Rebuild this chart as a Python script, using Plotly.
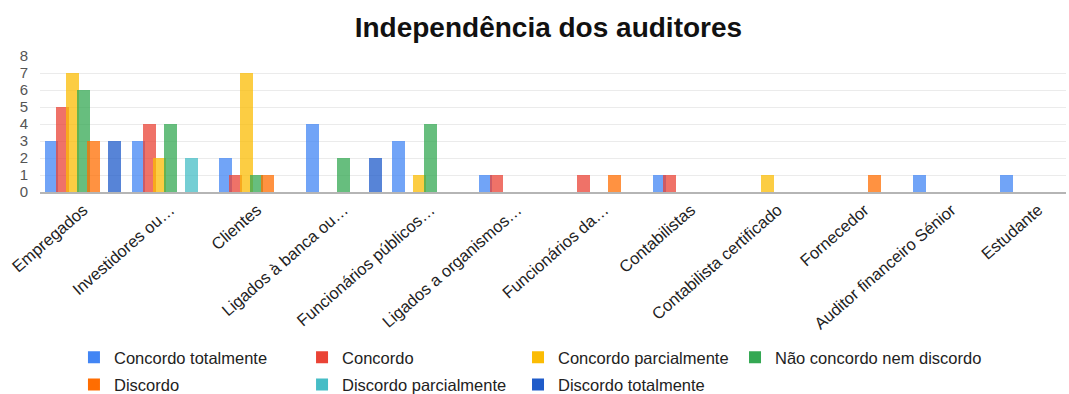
import plotly.graph_objects as go

# Respondent groups (x categories)
categorias = [
    "Empregados",
    "Investidores ou…",
    "Clientes",
    "Ligados à banca ou…",
    "Funcionários públicos…",
    "Ligados a organismos…",
    "Funcionários da…",
    "Contabilistas",
    "Contabilista certificado",
    "Fornecedor",
    "Auditor financeiro Sénior",
    "Estudante",
]

# Answer counts per level of agreement
concordo_totalmente = [3, 3, 2, 4, 3, 1, 0, 1, 0, 0, 1, 1]
concordo = [5, 4, 1, 0, 0, 1, 1, 1, 0, 0, 0, 0]
concordo_parcialmente = [7, 2, 7, 0, 1, 0, 0, 0, 1, 0, 0, 0]
nao_concordo_nem_discordo = [6, 4, 1, 2, 4, 0, 0, 0, 0, 0, 0, 0]
discordo = [3, 0, 1, 0, 0, 0, 1, 0, 0, 1, 0, 0]
discordo_parcialmente = [0, 2, 0, 0, 0, 0, 0, 0, 0, 0, 0, 0]
discordo_totalmente = [3, 0, 0, 2, 0, 0, 0, 0, 0, 0, 0, 0]

series = [
    ("Concordo totalmente", concordo_totalmente, "#4285F4"),
    ("Concordo", concordo, "#EA4335"),
    ("Concordo parcialmente", concordo_parcialmente, "#FBBC04"),
    ("Não concordo nem discordo", nao_concordo_nem_discordo, "#34A853"),
    ("Discordo", discordo, "#FF6D01"),
    ("Discordo parcialmente", discordo_parcialmente, "#46BDC6"),
    ("Discordo totalmente", discordo_totalmente, "#1F5BC9"),
]

tick_y = [0, 1, 2, 3, 4, 5, 6, 7, 8]

# slightly overlapping bars inside each group
BAR_W = 0.15
STEP = 0.121
START = -0.44

# legend grid: 4 columns x 2 rows, one legend box per entry (paper coords)
LEG_COLS = [0.0331, 0.2554, 0.4659, 0.6774]
LEG_ROWS = [-1.218, -1.418]

fig = go.Figure()
legend_layouts = {}
for i, (nome, valores, cor) in enumerate(series):
    key = "legend" if i == 0 else f"legend{i + 1}"
    fig.add_trace(
        go.Bar(
            name=nome,
            x=categorias,
            y=valores,
            width=BAR_W,
            offset=START + i * STEP,
            marker=dict(color=cor, opacity=0.75, line=dict(width=0)),
            legend=key,
        )
    )
    legend_layouts[key] = dict(
        x=LEG_COLS[i % 4],
        y=LEG_ROWS[i // 4],
        xanchor="left",
        yanchor="middle",
        orientation="h",
        font=dict(size=16.5, color="#222", family="Liberation Sans, Arial, sans-serif"),
        bgcolor="rgba(0,0,0,0)",
        borderwidth=0,
    )

fig.update_layout(
    width=1069,
    height=394,
    margin=dict(l=40, r=3, t=56, b=202, autoexpand=False),
    paper_bgcolor="white",
    plot_bgcolor="white",
    font=dict(family="Liberation Sans, Arial, sans-serif", color="#333"),
    title=dict(
        text="<b>Independência dos auditores</b>",
        x=0.513,
        xanchor="center",
        y=1 - 27 / 394,
        yanchor="middle",
        font=dict(size=28, color="#111", family="Liberation Sans, Arial, sans-serif"),
    ),
    barmode="overlay",
    showlegend=True,
    bargap=0,
    **legend_layouts,
)

fig.update_xaxes(
    type="category",
    categoryorder="array",
    categoryarray=categorias,
    range=[-0.5, 11.32],
    tickangle=-41,
    tickfont=dict(size=16.5, color="#222"),
    showgrid=False,
    showline=True,
    linecolor="#b5b5b5",
    linewidth=2,
    ticks="",
    automargin=False,
    fixedrange=True,
)

fig.update_yaxes(
    range=[0, 8],
    tickvals=tick_y,
    tickfont=dict(size=15, color="#555"),
    showgrid=True,
    gridcolor="#ebebeb",
    gridwidth=1,
    zeroline=False,
    ticks="",
    ticklabelstandoff=11,
    automargin=False,
    fixedrange=True,
)

fig.write_html("out.html")
